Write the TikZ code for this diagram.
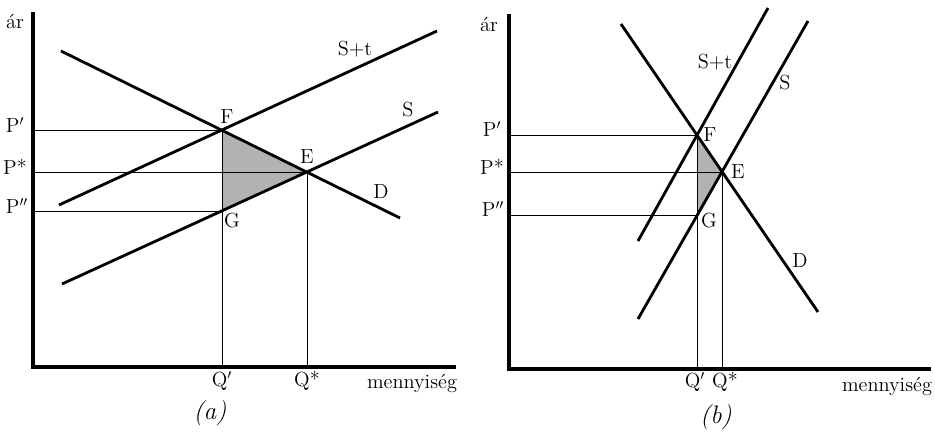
\documentclass[tikz,border=0pt]{standalone}
\usepackage{amsmath}
\usepackage{amssymb}
\usepackage{tikz}

\begin{document}
\begin{tikzpicture}[x=0.025cm, y=-0.025cm,
        axis/.style={line width=2.9pt},
        curve/.style={line width=2pt},
        guide/.style={line width=0.6pt},
        lbl/.style={font=\fontsize{14.5}{16}\selectfont, inner sep=1pt},
        panellbl/.style={font=\fontsize{18}{20}\selectfont\itshape, inner sep=1pt}]
                \useasboundingbox (0,0) rectangle (935,434);

                % (a)
                \coordinate (Oa) at (33,367);
                \coordinate (Fa) at (222,130);
                \coordinate (Ea) at (307,172);
                \coordinate (Ga) at (222,211);
                \fill[gray!60] (Fa) -- (Ea) -- (Ga) -- cycle;
                \draw[guide] (Fa -| Oa) -- (Fa) -- (Fa |- Oa);
                \draw[guide] (Ea -| Oa) -- (Ea) -- (Ea |- Oa);
                \draw[guide] (Ga -| Oa) -- (Ga);
                \draw[curve] (61,51) -- (400,218);
                \draw[curve] (62,284) -- (438,112);
                \draw[curve] (59,205) -- (437,31);
                \draw[axis] (33,12) -- (Oa) -- (456,367);

                \node[lbl] (ara) at (15,21) {ár};
                \node[lbl] (mena) at (412,383) {mennyiség};
                \node[lbl] (Pa1) at (15,125) {P$'$};
                \node[lbl] (Pa0) at (15,167) {P*};
                \node[lbl] (Pa2) at (17,206) {P$''$};
                \node[lbl] (Qa1) at (222,381) {Q$'$};
                \node[lbl] (Qa0) at (307,381) {Q*};
                \node[lbl] (Fla) at (227,117) {F};
                \node[lbl] (Ela) at (307,157) {E};
                \node[lbl] (Gla) at (232,221) {G};
                \node[lbl] (Sta) at (355,49) {S+t};
                \node[lbl] (Sa) at (408,110) {S};
                \node[lbl] (Da) at (381,192) {D};
                \node[panellbl] (capa) at (210,413) {(a)};

                % (b)
                \coordinate (Ob) at (509,369);
                \coordinate (Fb) at (697,135);
                \coordinate (Eb) at (722,172);
                \coordinate (Gb) at (697,215);
                \fill[gray!60] (Fb) -- (Eb) -- (Gb) -- cycle;
                \draw[guide] (Fb -| Ob) -- (Fb) -- (Fb |- Ob);
                \draw[guide] (Eb -| Ob) -- (Eb) -- (Eb |- Ob);
                \draw[guide] (Gb -| Ob) -- (Gb);
                \draw[curve] (621,24) -- (818,312);
                \draw[curve] (638,319) -- (808,21);
                \draw[curve] (638,241) -- (768,8);
                \draw[axis] (509,14) -- (Ob) -- (931,369);

                \node[lbl] (arb) at (489,24) {ár};
                \node[lbl] (menb) at (887,386) {mennyiség};
                \node[lbl] (Pb1) at (492,129) {P$'$};
                \node[lbl] (Pb0) at (492,167) {P*};
                \node[lbl] (Pb2) at (493,209) {P$''$};
                \node[lbl] (Qb1) at (695,382) {Q$'$};
                \node[lbl] (Qb0) at (725,382) {Q*};
                \node[lbl] (Flb) at (710,135) {F};
                \node[lbl] (Elb) at (738,172) {E};
                \node[lbl] (Glb) at (709,221) {G};
                \node[lbl] (Stb) at (715,62) {S+t};
                \node[lbl] (Sb) at (785,83) {S};
                \node[lbl] (Db) at (800,261) {D};
                \node[panellbl] (capb) at (716,417) {(b)};
            \end{tikzpicture}
\end{document}
